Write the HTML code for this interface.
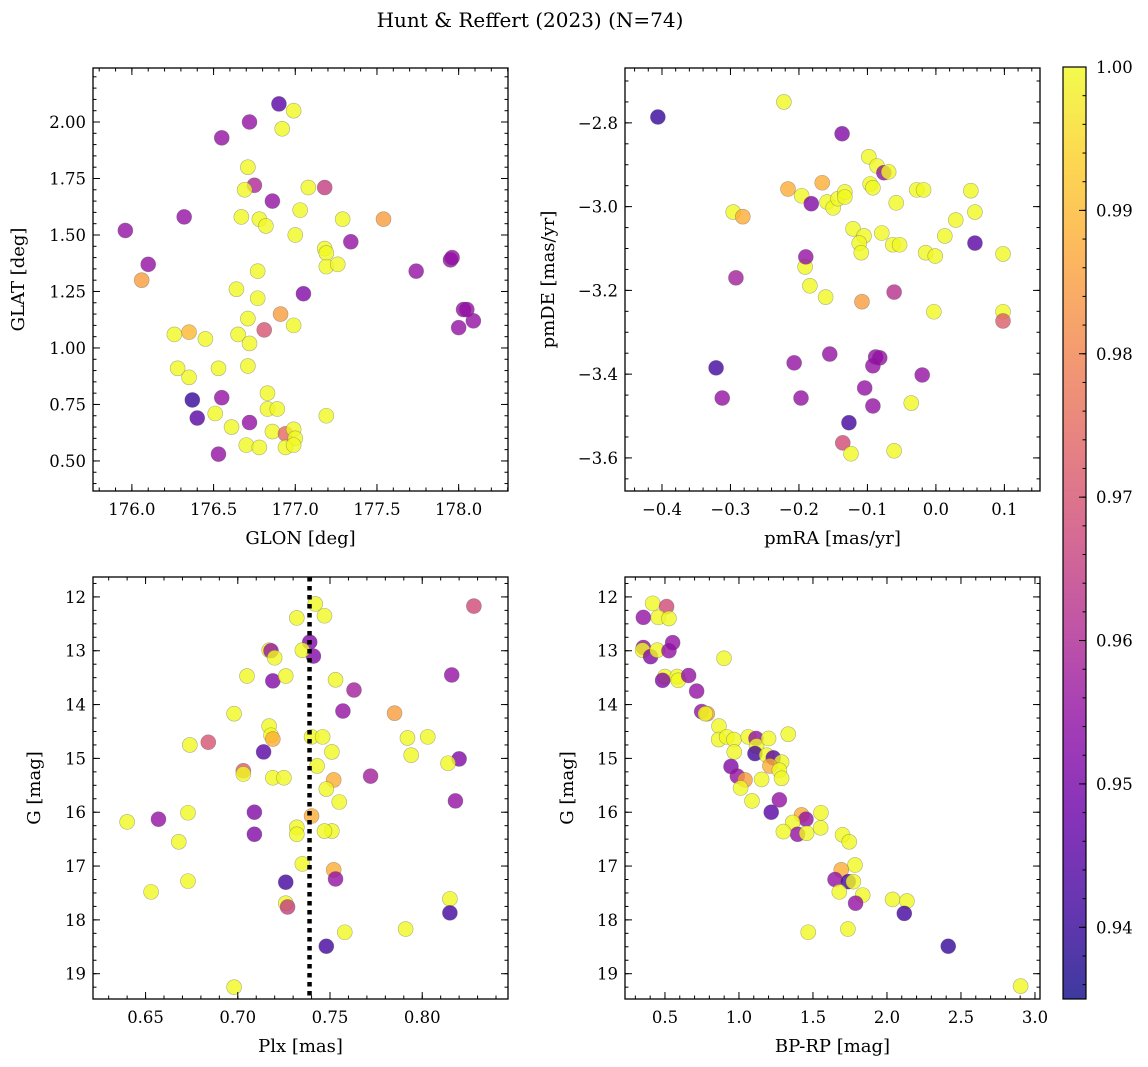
<!DOCTYPE html>
<html><head><meta charset="utf-8">
<style>
html,body{margin:0;padding:0;background:#fff;}
svg{display:block;font-family:"DejaVu Serif","Liberation Serif",serif;}
</style></head>
<body>
<svg id="fig" width="1148" height="1067" viewBox="0 0 1148 1067" xmlns="http://www.w3.org/2000/svg">
<defs>
<linearGradient id="plasmaGrad" x1="0" y1="1" x2="0" y2="0">
<stop offset="0" stop-color="#0d0887"/><stop offset="0.1" stop-color="#41049d"/><stop offset="0.2" stop-color="#6a00a8"/><stop offset="0.3" stop-color="#8f0da4"/><stop offset="0.4" stop-color="#b12a90"/><stop offset="0.5" stop-color="#cc4778"/><stop offset="0.6" stop-color="#e16462"/><stop offset="0.7" stop-color="#f2844b"/><stop offset="0.8" stop-color="#fca636"/><stop offset="0.9" stop-color="#fcce25"/><stop offset="1" stop-color="#f0f921"/>
</linearGradient>
</defs>
<text x="530" y="27" font-size="20" text-anchor="middle">Hunt &amp; Reffert (2023) (N=74)</text>
</svg>
<script>
// ---- data ----
const glon = [176.90,176.99,176.55,176.72,176.92,176.71,176.75,176.69,176.86,177.08,
177.18,177.54,177.03,176.67,176.78,176.82,177.00,177.29,177.34,177.18,
177.19,177.19,177.26,176.77,175.96,176.10,176.32,176.06,176.64,177.05,
177.74,177.95,177.96,178.03,178.05,178.09,178.00,176.71,176.77,176.91,
176.99,176.81,176.65,176.72,176.35,176.26,176.45,176.28,176.35,176.53,
176.71,176.37,176.40,176.55,176.51,176.61,176.83,176.83,176.89,176.72,
176.53,176.70,176.78,176.86,176.94,176.99,177.00,176.94,176.99,177.19];
const glat = [2.08,2.05,1.93,2.00,1.97,1.80,1.72,1.70,1.65,1.71,
1.71,1.57,1.61,1.58,1.57,1.54,1.50,1.57,1.47,1.44,
1.42,1.36,1.37,1.34,1.52,1.37,1.58,1.30,1.26,1.24,
1.34,1.39,1.40,1.17,1.17,1.12,1.09,1.13,1.22,1.15,
1.10,1.08,1.06,1.02,1.07,1.06,1.04,0.91,0.87,0.91,
0.92,0.77,0.69,0.78,0.71,0.65,0.80,0.73,0.73,0.67,
0.53,0.57,0.56,0.63,0.62,0.64,0.60,0.56,0.57,0.70];
const prob1 = [.945,1,.955,.955,1,1,.96,1,.955,1,
.965,.985,1,1,1,1,1,1,.955,1,
1,1,1,1,.955,.955,.955,.985,1,.952,
.955,.955,.955,.955,.955,.955,.955,1,1,.985,
1,.97,1,1,.99,1,1,1,1,1,
1,.94,.945,.955,1,1,1,1,1,.955,
.955,1,1,1,.975,1,1,1,1,1];

const pmra = [-0.406,-0.222,-0.137,-0.296,-0.282,-0.216,-0.196,-0.166,-0.182,-0.159,
-0.150,-0.143,-0.133,-0.133,-0.121,-0.105,-0.098,-0.086,-0.096,-0.092,
-0.076,-0.069,-0.028,-0.018,-0.058,-0.079,-0.112,-0.109,-0.063,-0.053,
-0.015,-0.001,0.013,0.029,0.051,0.057,0.057,0.098,0.098,0.098,
-0.191,-0.190,-0.184,-0.161,-0.108,-0.292,-0.061,-0.003,-0.207,-0.155,
-0.321,-0.312,-0.197,-0.088,-0.082,-0.092,-0.104,-0.092,-0.020,-0.036,
-0.127,-0.136,-0.124,-0.061];
const pmde = [-2.786,-2.75,-2.826,-3.013,-3.024,-2.958,-2.974,-2.943,-2.993,-2.989,
-3.003,-2.981,-2.965,-2.977,-3.053,-3.07,-2.881,-2.903,-2.946,-2.955,
-2.919,-2.917,-2.96,-2.96,-2.991,-3.063,-3.087,-3.110,-3.091,-3.091,
-3.110,-3.118,-3.07,-3.032,-2.962,-3.013,-3.087,-3.113,-3.251,-3.273,
-3.144,-3.12,-3.189,-3.216,-3.227,-3.17,-3.204,-3.251,-3.373,-3.352,
-3.385,-3.457,-3.457,-3.359,-3.361,-3.380,-3.433,-3.476,-3.402,-3.469,
-3.516,-3.564,-3.590,-3.583];
const prob2 = [.94,1,.952,1,.988,.988,1,.988,.952,1,
1,1,1,1,1,1,1,1,1,1,
.955,1,1,1,1,1,1,1,1,1,
1,1,1,1,1,1,.945,1,1,.972,
1,.955,1,1,.985,.958,.962,1,.955,.955,
.942,.955,.955,.955,.955,.955,.955,.955,.955,1,
.942,.968,1,1];

const plx = [0.742,0.732,0.747,0.828,0.739,0.741,0.735,0.717,0.718,0.720,
0.719,0.726,0.705,0.753,0.763,0.816,0.757,0.785,0.698,0.717,
0.718,0.719,0.740,0.746,0.792,0.803,0.794,0.674,0.684,0.714,
0.751,0.743,0.820,0.814,0.772,0.703,0.703,0.719,0.725,0.752,
0.748,0.755,0.818,0.709,0.673,0.657,0.640,0.740,0.732,0.732,
0.751,0.747,0.709,0.668,0.735,0.752,0.753,0.726,0.673,0.653,
0.726,0.727,0.815,0.815,0.758,0.791,0.748,0.698];
const gmag3 = [12.13,12.39,12.35,12.17,12.84,13.10,12.99,12.99,13.00,13.13,
13.56,13.47,13.47,13.54,13.73,13.45,14.12,14.16,14.17,14.40,
14.57,14.64,14.60,14.60,14.62,14.60,14.94,14.75,14.70,14.88,
14.88,15.14,15.01,15.09,15.33,15.23,15.29,15.36,15.36,15.40,
15.57,15.81,15.79,16.00,16.01,16.13,16.18,16.07,16.28,16.41,
16.35,16.35,16.41,16.55,16.96,17.07,17.24,17.30,17.28,17.48,
17.69,17.76,17.61,17.87,18.23,18.17,18.49,19.25];
const prob3 = [1,1,1,.968,.952,.952,1,1,.955,1,
.952,1,1,1,.958,.955,.955,.985,1,1,
1,.988,1,1,1,1,1,1,.97,.945,
1,1,.952,1,.958,.972,1,1,1,.988,
1,1,.955,.952,1,.955,1,.988,1,1,
1,1,.952,1,1,.988,.955,.942,1,1,
1,.965,1,.942,1,1,.942,1];
const meanPlx = [0.7389];

const bprp = [0.417,0.511,0.354,0.455,0.527,0.354,0.349,0.403,0.448,0.527,
0.552,0.899,0.5,0.484,0.583,0.59,0.66,0.714,0.748,0.786,
0.773,0.865,0.863,0.917,0.966,1.063,1.115,1.119,1.2,1.333,
0.968,1.108,1.187,1.232,1.288,1.209,1.273,1.288,0.946,0.989,
1.041,1.153,1.011,1.088,1.273,1.218,1.554,1.423,1.453,1.363,
1.396,1.457,1.3,1.552,1.7,1.745,1.784,1.691,1.649,1.739,
1.773,1.678,1.836,1.788,2.038,2.135,2.117,1.468,1.736,2.414,2.903];
const gmag4 = [12.12,12.18,12.38,12.38,12.40,12.94,12.99,13.11,12.99,13.0,
12.85,13.14,13.48,13.55,13.48,13.55,13.46,13.75,14.13,14.17,
14.17,14.40,14.65,14.60,14.65,14.60,14.63,14.77,14.63,14.55,
14.88,14.91,14.94,14.99,15.07,15.14,15.22,15.37,15.15,15.33,
15.40,15.39,15.55,15.79,15.77,16.00,16.01,16.05,16.13,16.19,
16.41,16.39,16.36,16.29,16.42,16.55,16.98,17.07,17.25,17.29,
17.29,17.48,17.54,17.69,17.62,17.65,17.88,18.23,18.17,18.49,19.23];
const prob4 = [1,.968,.955,1,1,.955,1,.952,1,.955,
.955,1,1,.952,1,1,.955,.955,.955,.985,
1,1,1,1,1,1,.955,1,1,1,
1,.942,1,.945,1,.988,1,1,.952,.955,
.985,1,1,1,.955,.945,1,.988,.955,1,
.955,1,1,1,1,1,1,.988,.955,.942,
1,1,1,.955,1,1,.942,1,1,.94,1];

const cbTicks = [1.00,0.99,0.98,0.97,0.96,0.95,0.94];
const cbLabels = ["1.00","0.99","0.98","0.97","0.96","0.95","0.94"];
const vmin = 0.935, vmax = 1.0;

// ---- rendering ----
const NS = "http://www.w3.org/2000/svg";
const svg = document.getElementById("fig");
function mk(tag, attrs, parent){
  const e = document.createElementNS(NS, tag);
  for (const k in attrs) e.setAttribute(k, attrs[k]);
  (parent||svg).appendChild(e);
  return e;
}
const stops = [[13,8,135],[65,4,157],[106,0,168],[143,13,164],[177,42,144],[204,71,120],[225,100,98],[242,132,75],[252,166,54],[252,206,37],[240,249,33]];
function plasma(t){
  t = Math.max(0, Math.min(1, t));
  const s = t*10, i = Math.min(9, Math.floor(s)), f = s - i;
  const a = stops[i], b = stops[i+1];
  return "rgb(" + [0,1,2].map(k => Math.round(a[k] + (b[k]-a[k])*f)).join(",") + ")";
}
function fmt(v, d){ const s = Math.abs(v).toFixed(d); return (v < -1e-9 ? "\u2212" : "") + s; }

function panel(cfg){
  const g = mk("g", {});
  
  
  const L = cfg.L, R = cfg.R, T = cfg.T, B = cfg.B;
  const sx = v => L + (v - cfg.xd[0]) / (cfg.xd[1] - cfg.xd[0]) * (R - L);
  const sy = cfg.invert ? (v => T + (v - cfg.yd[0]) / (cfg.yd[1] - cfg.yd[0]) * (B - T))
                        : (v => B - (v - cfg.yd[0]) / (cfg.yd[1] - cfg.yd[0]) * (B - T));
  const pg = mk("g", {}, g);
  
  
  for (let i = 0; i < cfg.x.length; i++){
    const c = cfg.c[i] === undefined ? 1 : cfg.c[i];
    const p = mk("circle", {cx: sx(cfg.x[i]), cy: sy(cfg.y[i]), r: 7.5, fill: plasma((c - vmin)/(vmax - vmin)), "fill-opacity": 0.8, stroke: "#555", "stroke-opacity": 0.45, "stroke-width": 0.6}, pg);
    
    
  }
  if (cfg.extra) cfg.extra(g, sx, sy);
  const fr = mk("rect", {x: L, y: T, width: R - L, height: B - T, fill: "none", stroke: "#000", "stroke-width": 1.3}, g);
  
  
  const tg = mk("g", {stroke: "#000", "stroke-width": 1}, g);
  
  
  function ticks(dom, step){
    const out = [];
    const s = Math.ceil(Math.min(dom[0], dom[1]) / step - 1e-6);
    const e = Math.floor(Math.max(dom[0], dom[1]) / step + 1e-6);
    for (let k = s; k <= e; k++) out.push(k * step);
    return out;
  }
  ticks(cfg.xd, cfg.xMinor).forEach(v => { const x = sx(v); mk("line", {x1: x, x2: x, y1: B, y2: B - 3.5}, tg); mk("line", {x1: x, x2: x, y1: T, y2: T + 3.5}, tg); });
  ticks(cfg.yd, cfg.yMinor).forEach(v => { const y = sy(v); mk("line", {x1: L, x2: L + 3.5, y1: y, y2: y}, tg); mk("line", {x1: R, x2: R - 3.5, y1: y, y2: y}, tg); });
  ticks(cfg.xd, cfg.xMajor).forEach(v => {
    const x = sx(v);
    mk("line", {x1: x, x2: x, y1: B, y2: B - 7}, tg); mk("line", {x1: x, x2: x, y1: T, y2: T + 7}, tg);
    const t = mk("text", {x: x, y: B + 24, "font-size": 16.5, "text-anchor": "middle"}, g);
    t.textContent = fmt(v, cfg.xDec);
    
    
  });
  ticks(cfg.yd, cfg.yMajor).forEach(v => {
    const y = sy(v);
    mk("line", {x1: L, x2: L + 7, y1: y, y2: y}, tg); mk("line", {x1: R, x2: R - 7, y1: y, y2: y}, tg);
    const t = mk("text", {x: L - 7, y: y + 6, "font-size": 16.5, "text-anchor": "end"}, g);
    t.textContent = fmt(v, cfg.yDec);
    
    
  });
  const xl = mk("text", {x: (L + R)/2, y: B + 53, "font-size": 18, "text-anchor": "middle"}, g);
  xl.textContent = cfg.xlabel;
  
  
  const yl = mk("text", {x: 0, y: 0, "font-size": 18, "text-anchor": "middle", transform: "translate(" + cfg.ylx + "," + (T + B)/2 + ") rotate(-90)"}, g);
  yl.textContent = cfg.ylabel;
  
  
}

panel({name: "glon-glat-panel", L: 93, R: 508, T: 68, B: 491, xd: [175.762, 178.302], yd: [0.367, 2.239],
  x: glon, y: glat, c: prob1, xMajor: 0.5, xMinor: 0.1, yMajor: 0.25, yMinor: 0.05, xDec: 1, yDec: 2,
  xlabel: "GLON [deg]", ylabel: "GLAT [deg]", ylx: 24});
panel({name: "proper-motion-panel", L: 625, R: 1040, T: 68, B: 491, xd: [-0.454, 0.152], yd: [-3.679, -2.669],
  x: pmra, y: pmde, c: prob2, xMajor: 0.1, xMinor: 0.02, yMajor: 0.2, yMinor: 0.05, xDec: 1, yDec: 1,
  xlabel: "pmRA [mas/yr]", ylabel: "pmDE [mas/yr]", ylx: 554});
panel({name: "parallax-g-panel", L: 93, R: 508, T: 577, B: 999, xd: [0.6215, 0.8465], yd: [11.63, 19.47], invert: true,
  x: plx, y: gmag3, c: prob3, xMajor: 0.05, xMinor: 0.01, yMajor: 1, yMinor: 0.25, xDec: 2, yDec: 0,
  xlabel: "Plx [mas]", ylabel: "G [mag]", ylx: 40,
  extra: (g, sx, sy) => {
    const x = sx(meanPlx[0]);
    const l = mk("line", {x1: x, x2: x, y1: 577, y2: 999, stroke: "#000", "stroke-width": 4.5, "stroke-dasharray": "4.5,4.5"}, g);
    
    
  }});
panel({name: "cmd-panel", L: 625, R: 1040, T: 577, B: 999, xd: [0.23, 3.034], yd: [11.63, 19.47], invert: true,
  x: bprp, y: gmag4, c: prob4, xMajor: 0.5, xMinor: 0.1, yMajor: 1, yMinor: 0.25, xDec: 1, yDec: 0,
  xlabel: "BP-RP [mag]", ylabel: "G [mag]", ylx: 573});

(function(){
  const L = 1063, R = 1086, T = 67, B = 999;
  const g = mk("g", {});
  
  
  const r = mk("rect", {x: L, y: T, width: R - L, height: B - T, fill: "url(#plasmaGrad)", opacity: 0.8}, g);
  
  
  const f = mk("rect", {x: L, y: T, width: R - L, height: B - T, fill: "none", stroke: "#000", "stroke-width": 1.2}, g);
  
  
  const sy = v => B - (v - vmin) / (vmax - vmin) * (B - T);
  for (let k = Math.ceil(vmin/0.002); k <= Math.floor(vmax/0.002 + 1e-6); k++){
    const y = sy(k*0.002);
    mk("line", {x1: R, x2: R - 3.5, y1: y, y2: y, stroke: "#000", "stroke-width": 1}, g);
  }
  cbTicks.forEach((v, i) => {
    const y = sy(v);
    mk("line", {x1: R, x2: R - 7, y1: y, y2: y, stroke: "#000", "stroke-width": 1}, g);
    const t = mk("text", {x: R + 10, y: y + 6, "font-size": 16.5}, g);
    t.textContent = cbLabels[i];
    
    
  });
})();
</script>
</body></html>
